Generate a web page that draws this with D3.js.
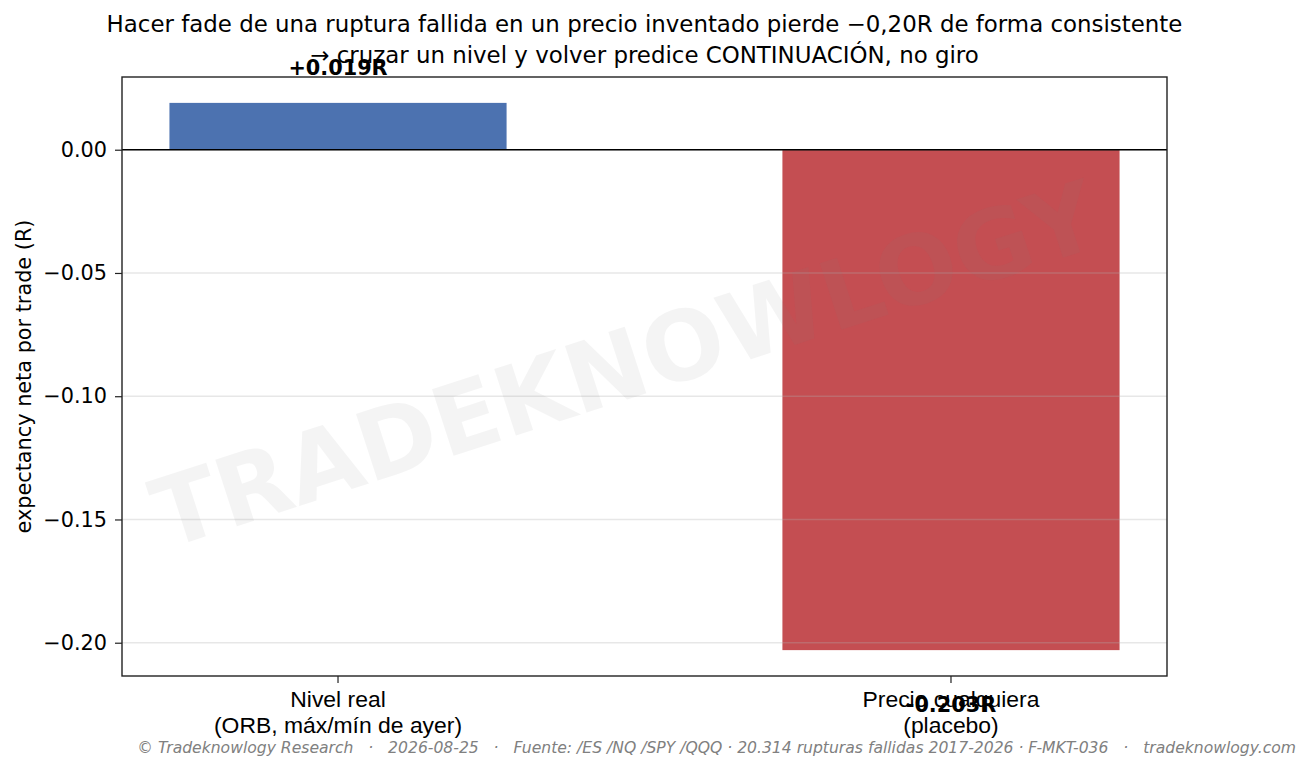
<!DOCTYPE html>
<html>
<head>
<meta charset="utf-8">
<script src="https://cdn.jsdelivr.net/npm/d3@7"></script>
<style>
  body { margin: 0; background: #fff; }
  svg { display: block; font-family: "DejaVu Sans", sans-serif; }
</style>
</head>
<body>
<div id="chart"></div>
<script>
// Data
const categories = [
  ["Nivel real", "(ORB, máx/mín de ayer)"],
  ["Precio cualquiera", "(placebo)"],
];
const expectancy = [0.019, -0.203];
const barColors = ["#4c72b0", "#c44e52"];
const yTicks = [0, -0.05, -0.1, -0.15, -0.2];
const yDomain = [-0.2135, 0.0295];

const titleLines = [
  "Hacer fade de una ruptura fallida en un precio inventado pierde −0,20R de forma consistente",
  "→ cruzar un nivel y volver predice CONTINUACIÓN, no giro",
];
const yLabel = "expectancy neta por trade (R)";
const footer =
  "© Tradeknowlogy Research   ·   2026-08-25   ·   Fuente: /ES /NQ /SPY /QQQ · 20.314 rupturas fallidas 2017-2026 · F-MKT-036   ·   tradeknowlogy.com";
const watermark = "TRADEKNOWLOGY";

function draw() {
  // Dimensions
  let dimensions = {
    width: 1311,
    height: 772,
    margins: { top: 77, right: 144, bottom: 96, left: 122 },
  };
  dimensions.ctrWidth =
    dimensions.width - dimensions.margins.left - dimensions.margins.right;
  dimensions.ctrHeight =
    dimensions.height - dimensions.margins.top - dimensions.margins.bottom;

  const svg = d3
    .select("#chart")
    .append("svg")
    .attr("width", dimensions.width)
    .attr("height", dimensions.height);

  const ctr = svg
    .append("g")
    .attr(
      "transform",
      `translate(${dimensions.margins.left}, ${dimensions.margins.top})`
    );

  // Scales
  const xScale = d3
    .scaleBand()
    .domain(d3.range(categories.length))
    .range([0, dimensions.ctrWidth])
    .paddingInner(0.45)
    .paddingOuter(0.0774);

  const yScale = d3
    .scaleLinear()
    .domain(yDomain)
    .range([dimensions.ctrHeight, 0]);

  // Bars
  ctr
    .selectAll(".bar")
    .data(expectancy)
    .join("rect")
    .attr("class", "bar")
    .attr("x", (d, i) => xScale(i))
    .attr("width", xScale.bandwidth())
    .attr("y", (d) => yScale(Math.max(0, d)))
    .attr("height", (d) => Math.abs(yScale(d) - yScale(0)))
    .attr("fill", (d, i) => barColors[i]);

  // grid lines (drawn over the bars, like the original)
  ctr
    .selectAll(".grid-line")
    .data(yTicks)
    .join("line")
    .attr("class", "grid-line")
    .attr("x1", 0)
    .attr("x2", dimensions.ctrWidth)
    .attr("y1", (d) => yScale(d))
    .attr("y2", (d) => yScale(d))
    .attr("stroke", "#b0b0b0")
    .attr("stroke-opacity", 0.3)
    .attr("stroke-width", 1.4);

  // watermark
  ctr
    .append("text")
    .attr(
      "transform",
      `translate(${dimensions.ctrWidth * 0.481}, ${dimensions.ctrHeight * 0.479}) rotate(-18)`
    )
    .attr("text-anchor", "middle")
    .attr("dy", "0.36em")
    .style("font-size", "96px")
    .style("font-weight", "bold")
    .style("fill", "#808080")
    .style("fill-opacity", 0.085)
    .text(watermark);

  // zero line
  ctr
    .append("line")
    .attr("x1", 0)
    .attr("x2", dimensions.ctrWidth)
    .attr("y1", yScale(0))
    .attr("y2", yScale(0))
    .attr("stroke", "#000")
    .attr("stroke-width", 1.4);

  // Axes
  const yAxis = d3
    .axisLeft(yScale)
    .tickValues(yTicks)
    .tickSize(7)
    .tickPadding(8)
    .tickFormat((d) => d3.format(".2f")(d).replace("-", "−"));

  const gYAxis = ctr.append("g").call(yAxis);
  gYAxis.select(".domain").remove();
  gYAxis
    .selectAll(".tick line")
    .attr("stroke", "#222")
    .attr("stroke-width", 1.2);
  gYAxis
    .selectAll(".tick text")
    .style("font-family", "DejaVu Sans")
    .style("font-size", "20.8px")
    .style("fill", "#000");

  const xAxis = d3.axisBottom(xScale).tickSize(7).tickFormat("");
  const gXAxis = ctr
    .append("g")
    .attr("transform", `translate(0, ${dimensions.ctrHeight})`)
    .call(xAxis);
  gXAxis.select(".domain").remove();
  gXAxis
    .selectAll(".tick line")
    .attr("stroke", "#222")
    .attr("stroke-width", 1.2);
  gXAxis.selectAll(".tick text").remove();
  gXAxis
    .selectAll(".tick")
    .append("text")
    .attr("text-anchor", "middle")
    .style("font-size", "22.9px")
    .style("fill", "#000")
    .selectAll("tspan")
    .data((i) => categories[i])
    .join("tspan")
    .attr("x", 0)
    .attr("y", (d, j) => 31 + j * 26)
    .text((d) => d);

  // frame
  ctr
    .append("rect")
    .attr("width", dimensions.ctrWidth)
    .attr("height", dimensions.ctrHeight)
    .attr("fill", "none")
    .attr("stroke", "#222")
    .attr("stroke-width", 1.4);

  // value labels
  ctr
    .selectAll(".value-label")
    .data(expectancy)
    .join("text")
    .attr("class", "value-label")
    .attr("x", (d, i) => xScale(i) + xScale.bandwidth() / 2)
    .attr("y", (d) => (d >= 0 ? yScale(d + 0.0115) : yScale(d - 0.025)))
    .attr("text-anchor", "middle")
    .style("font-size", "20.8px")
    .style("font-weight", "bold")
    .style("fill", "#000")
    .text((d) => `${d >= 0 ? "+" : ""}${d.toFixed(3)}R`);

  // y label
  svg
    .append("text")
    .attr(
      "transform",
      `translate(31, ${dimensions.margins.top + dimensions.ctrHeight / 2}) rotate(-90)`
    )
    .attr("text-anchor", "middle")
    .style("font-size", "20.8px")
    .style("fill", "#000")
    .text(yLabel);

  // title
  svg
    .append("g")
    .selectAll("text")
    .data(titleLines)
    .join("text")
    .attr("x", dimensions.margins.left + dimensions.ctrWidth / 2)
    .attr("y", (d, i) => 32 + i * 31)
    .attr("text-anchor", "middle")
    .style("font-size", "22.9px")
    .style("fill", "#000")
    .text((d) => d);

  // footer
  svg
    .append("text")
    .attr("x", 1296)
    .attr("y", 753)
    .attr("text-anchor", "end")
    .style("font-size", "15.6px")
    .style("font-style", "italic")
    .style("fill", "#808080")
    .style("white-space", "pre")
    .text(footer);
}

draw();
</script>
</body>
</html>
